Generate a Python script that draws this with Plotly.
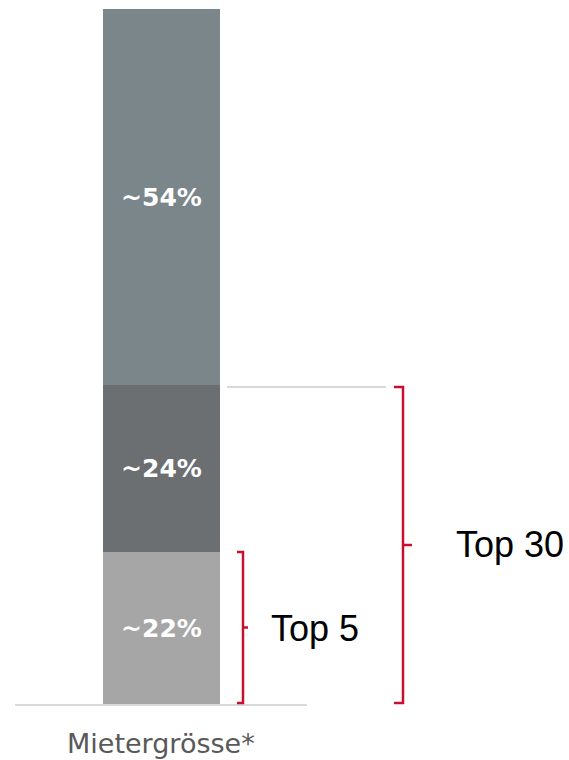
import plotly.graph_objects as go

# ---- data ----
category = "Mietergrösse*"
segments = ["Top 5", "Top 6-30", "Rest"]
shares = [22, 24, 54]
share_labels = ["~22%", "~24%", "~54%"]
bracket_labels = ["Top 5", "Top 30"]
bracket_tops = [22, 46]   # cumulative share covered by each bracket

colors = ["#A6A6A6", "#6B6F71", "#7B868B"]
RED = "#C8102E"
GRID = "#D9D9D9"

W, H = 569, 760
px_per_unit = 6.96
y_top = 100 + 9 / px_per_unit
y_bot = -55 / px_per_unit

BAR_X = 161
BAR_W = 117

fig = go.Figure()
for name, v, lab, c in zip(segments, shares, share_labels, colors):
    fig.add_trace(go.Bar(
        x=[BAR_X], y=[v], width=BAR_W, name=name,
        marker=dict(color=c, line=dict(width=0)),
        text=[lab], textposition="inside", insidetextanchor="middle",
        textangle=0, constraintext="none",
        textfont=dict(family="DejaVu Sans", size=25, color="white", weight="bold"),
        hoverinfo="skip", showlegend=False,
    ))

shapes = []
# baseline
shapes.append(dict(type="line", xref="x", yref="y", x0=15, x1=307, y0=0, y1=0,
                   line=dict(color=GRID, width=2)))
# connector line at the top of the Top 30 group
shapes.append(dict(type="line", xref="x", yref="y", x0=227, x1=386,
                   y0=bracket_tops[1] - 0.3, y1=bracket_tops[1] - 0.3,
                   line=dict(color=GRID, width=2)))

def bracket(xv, left, right, y0, y1):
    ym = (y0 + y1) / 2
    return dict(type="path", xref="x", yref="y",
                path=f"M {left},{y0} L {xv},{y0} L {xv},{y1} L {left},{y1} "
                     f"M {xv},{ym} L {right},{ym}",
                line=dict(color=RED, width=2.5))

shapes.append(bracket(243, 237, 248, 0.3, bracket_tops[0]))
shapes.append(bracket(403, 394, 412, 0.3, bracket_tops[1] - 0.3))

annotations = [
    dict(x=269, y=bracket_tops[0] / 2, xref="x", yref="y", text=bracket_labels[0],
         showarrow=False, xanchor="left", yanchor="middle",
         font=dict(family="Liberation Sans", size=36, color="#000000")),
    dict(x=454, y=bracket_tops[1] / 2, xref="x", yref="y", text=bracket_labels[1],
         showarrow=False, xanchor="left", yanchor="middle",
         font=dict(family="Liberation Sans", size=36, color="#000000")),
    dict(x=BAR_X, y=0, xref="x", yref="y", text=category, showarrow=False,
         xanchor="center", yanchor="middle", yshift=-38,
         font=dict(family="DejaVu Sans", size=27, color="#595959")),
]

fig.update_layout(
    width=W, height=H, margin=dict(l=0, r=0, t=0, b=0),
    barmode="stack", bargap=0,
    plot_bgcolor="white", paper_bgcolor="white",
    xaxis=dict(range=[0, W], visible=False, fixedrange=True),
    yaxis=dict(range=[y_bot, y_top], visible=False, fixedrange=True),
    shapes=shapes, annotations=annotations,
    uniformtext=dict(mode=False),
)

fig.write_html("out.html", config={"displayModeBar": False},
               post_script="document.body.style.margin='0px';document.body.style.overflow='hidden';")
